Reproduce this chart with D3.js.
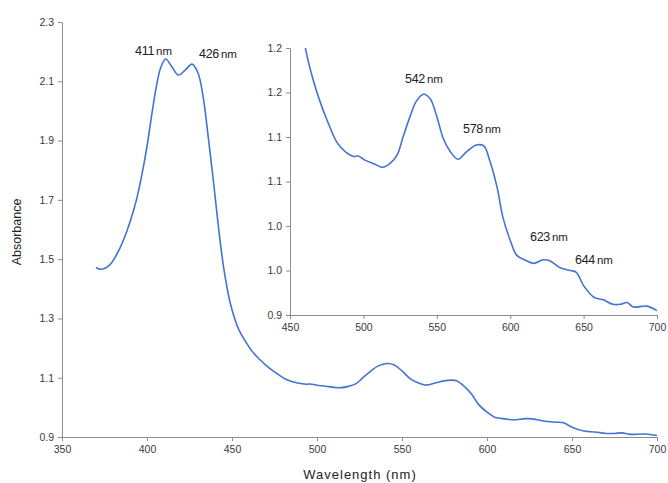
<!DOCTYPE html>
<html>
<head>
<meta charset="utf-8">
<script src="https://cdn.jsdelivr.net/npm/d3@7"></script>
<style>
  html, body { margin: 0; padding: 0; background: #fff; }
  svg { display: block; font-family: "Liberation Sans", Arial, sans-serif; }
</style>
</head>
<body>
<svg id="chart" width="668" height="483"></svg>
<script>
// ---- data ----
const wavelength = [370, 373, 378, 382, 386, 390, 394, 397, 400, 403, 405.5, 408, 411, 414.5, 418.5, 422.5, 426.5, 430, 433, 436, 439, 442, 445, 449, 454, 458, 462, 466, 470, 475, 482, 488, 494, 496, 501, 507, 513, 518, 523, 527, 532, 536, 541, 545.5, 550, 554.5, 559, 564.5, 570, 577, 582, 586, 591, 595, 600, 604.5, 611, 616, 622.5, 627, 634, 641, 645, 650, 657, 663.5, 670, 675, 679.5, 684, 693, 700];
const absorbance = [1.472, 1.466, 1.480, 1.514, 1.562, 1.625, 1.705, 1.785, 1.880, 1.995, 2.082, 2.145, 2.175, 2.150, 2.121, 2.138, 2.158, 2.128, 2.048, 1.913, 1.767, 1.610, 1.475, 1.351, 1.262, 1.222, 1.188, 1.163, 1.142, 1.120, 1.094, 1.083, 1.078, 1.079, 1.074, 1.070, 1.066, 1.070, 1.080, 1.100, 1.124, 1.140, 1.148, 1.143, 1.123, 1.098, 1.084, 1.075, 1.083, 1.091, 1.090, 1.074, 1.044, 1.010, 0.984, 0.967, 0.961, 0.958, 0.962, 0.961, 0.953, 0.950, 0.948, 0.933, 0.920, 0.917, 0.912, 0.912, 0.914, 0.909, 0.910, 0.905];

const mainXTicks = [350, 400, 450, 500, 550, 600, 650, 700];
const mainYTicks = [0.9, 1.1, 1.3, 1.5, 1.7, 1.9, 2.1, 2.3];
const insetXTicks = [450, 500, 550, 600, 650, 700];
const insetYTicks = [0.9, 0.95, 1.0, 1.05, 1.1, 1.15, 1.2];
const insetYLabels = ["0.9", "1.0", "1.0", "1.1", "1.1", "1.2", "1.2"];

const mainPeaks = [{ nm: "411", w: 411, a: 2.175 }, { nm: "426", w: 426.5, a: 2.158 }];
const insetPeaks = [{ nm: "542", w: 542 }, { nm: "578", w: 578 }, { nm: "623", w: 623 }, { nm: "644", w: 644 }];

const xLabel = "Wavelength (nm)";
const yLabel = "Absorbance";

// ---- drawing ----
const svg = d3.select("#chart");
const data = wavelength.map((w, i) => ({ w, a: absorbance[i] }));
const lineColor = "#4473D3";
const axisColor = "#8c8c8c";
const textColor = "#3a3a3a";

// main chart
const mx = d3.scaleLinear().domain([350, 700]).range([62, 657]);
const my = d3.scaleLinear().domain([0.9, 2.3]).range([437, 22]);

function styleAxis(g) {
  g.selectAll("path, line").attr("stroke", axisColor);
  g.selectAll("text").attr("fill", textColor).style("font-size", "10.5px");
}

svg.append("g")
  .attr("transform", "translate(0,437)")
  .call(d3.axisBottom(mx).tickValues(mainXTicks).tickSize(4).tickSizeOuter(0).tickPadding(5))
  .call(styleAxis);

svg.append("g")
  .attr("transform", "translate(62,0)")
  .call(d3.axisLeft(my).tickValues(mainYTicks).tickSize(4).tickSizeOuter(0).tickPadding(4).tickFormat(d3.format(".1f")))
  .call(styleAxis);

const mainLine = d3.line().x(d => mx(d.w)).y(d => my(d.a)).curve(d3.curveCatmullRom.alpha(0.5));
svg.append("path").datum(data)
  .attr("d", mainLine)
  .attr("fill", "none").attr("stroke", lineColor).attr("stroke-width", 1.6);

svg.append("text")
  .attr("x", 18).attr("y", 232)
  .attr("transform", "rotate(-90,18,232)")
  .attr("text-anchor", "middle").attr("dominant-baseline", "middle")
  .attr("fill", "#222").style("font-size", "12.5px")
  .text(yLabel);

svg.append("text")
  .attr("x", 360).attr("y", 479)
  .attr("text-anchor", "middle")
  .attr("fill", "#222").style("font-size", "13px").style("letter-spacing", "1px")
  .text(xLabel);

// inset chart
const ix = d3.scaleLinear().domain([450, 700]).range([290, 657]);
const iy = d3.scaleLinear().domain([0.9, 1.2]).range([315, 48]);

svg.append("g")
  .attr("transform", "translate(0,315)")
  .call(d3.axisBottom(ix).tickValues(insetXTicks).tickSize(4).tickSizeOuter(0).tickPadding(5))
  .call(styleAxis);

svg.append("g")
  .attr("transform", "translate(290,0)")
  .call(d3.axisLeft(iy).tickValues(insetYTicks).tickSize(4).tickSizeOuter(0).tickPadding(4)
    .tickFormat((d, i) => insetYLabels[i]))
  .call(styleAxis);

svg.append("clipPath").attr("id", "insetClip")
  .append("rect").attr("x", 290).attr("y", 48).attr("width", 367).attr("height", 267);

const insetLine = d3.line().x(d => ix(d.w)).y(d => iy(d.a)).curve(d3.curveCatmullRom.alpha(0.5));
svg.append("path").datum(data.filter(d => d.w >= 454))
  .attr("d", insetLine)
  .attr("clip-path", "url(#insetClip)")
  .attr("fill", "none").attr("stroke", lineColor).attr("stroke-width", 1.6);

// peak labels
function peakLabel(x, y, nm) {
  const t = svg.append("text").attr("x", x).attr("y", y).attr("fill", "#222");
  t.append("tspan").style("font-size", "12.5px").style("letter-spacing", "-0.3px").text(nm);
  t.append("tspan").style("font-size", "11.5px").attr("dx", 2).text("nm");
}
const mainLabelPos = [[135, 55], [199, 58]];
mainPeaks.forEach((p, i) => peakLabel(mainLabelPos[i][0], mainLabelPos[i][1], p.nm));
const insetLabelPos = [[405, 83], [463, 133], [530, 241], [575, 264]];
insetPeaks.forEach((p, i) => peakLabel(insetLabelPos[i][0], insetLabelPos[i][1], p.nm));
</script>
</body>
</html>
